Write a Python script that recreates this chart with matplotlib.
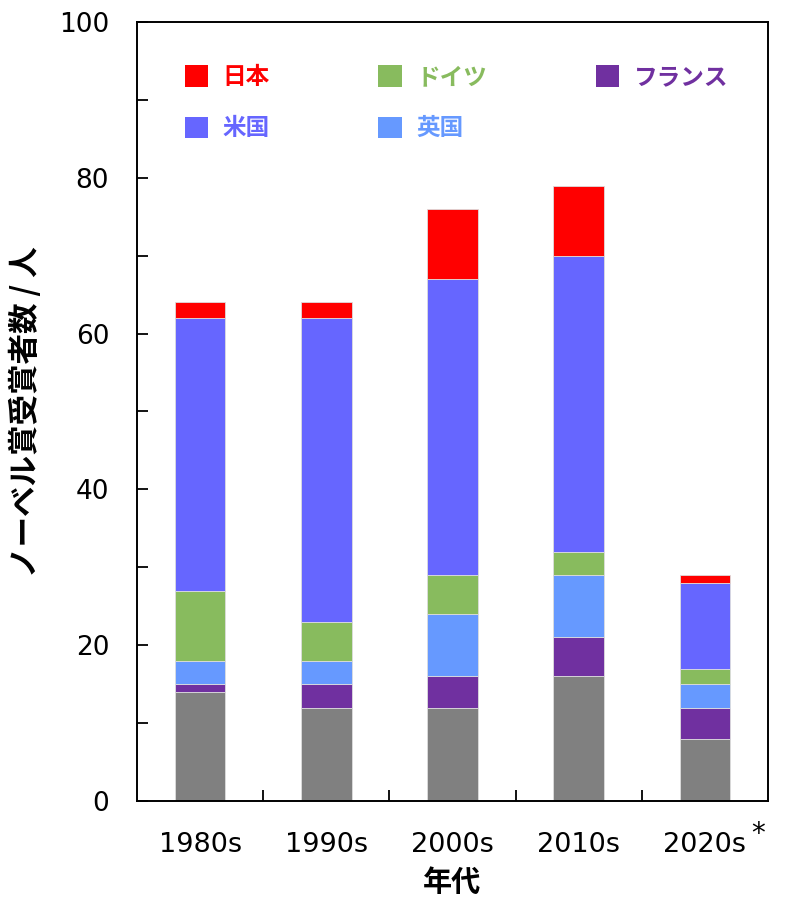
import matplotlib
matplotlib.use("Agg")
import matplotlib.pyplot as plt
import numpy as np

plt.rcParams['font.family'] = ['DejaVu Sans', 'Noto Sans CJK JP']

categories = ['1980s', '1990s', '2000s', '2010s', '2020s']
other   = [14, 12, 12, 16, 8]
france  = [1, 3, 4, 5, 4]
uk      = [3, 3, 8, 8, 3]
germany = [9, 5, 5, 3, 2]
usa     = [35, 39, 38, 38, 11]
japan   = [2, 2, 9, 9, 1]

series = [
    ('その他', other, '#808080'),
    ('フランス', france, '#7030A0'),
    ('英国', uk, '#6699FF'),
    ('ドイツ', germany, '#88BB5E'),
    ('米国', usa, '#6666FF'),
    ('日本', japan, '#FF0000'),
]

fig = plt.figure(figsize=(7.97, 8.97), dpi=100)
ax = fig.add_axes([137/797, 1-801/897, (768-137)/797, (801-22)/897])

x = np.arange(len(categories))
bottom = np.zeros(len(categories))
handles = {}
for name, vals, col in series:
    b = ax.bar(x, vals, width=0.4, bottom=bottom, color=col,
               edgecolor='#dddddd', linewidth=0.6, label=name)
    handles[name] = b
    bottom += np.array(vals)

ax.set_xlim(-0.5, 4.5)
ax.set_ylim(0, 100)
ax.set_yticks(np.arange(0, 101, 20))
ax.set_yticks(np.arange(10, 100, 20), minor=True)
ax.set_xticks(x)
ax.set_xticklabels(categories)
ax.set_xticks(np.arange(0.5, 4.0, 1.0), minor=True)

ax.tick_params(axis='y', which='both', direction='in', length=8, width=1.3,
               labelsize=19, pad=20)
ax.tick_params(axis='x', which='major', length=0, labelsize=19.5, pad=22)
ax.tick_params(axis='x', which='minor', direction='in', length=8, width=1.3)
for s in ax.spines.values():
    s.set_linewidth(1.4)
    s.set_color('black')

cjk = ['Noto Sans CJK JP', 'DejaVu Sans']
ax.set_ylabel('ノーベル賞受賞者数 / 人', family=cjk, fontweight='bold',
              fontsize=22, labelpad=12)
ax.set_xlabel('年代', family=cjk, fontweight='bold', fontsize=21, labelpad=7)

ax.annotate('*', xy=(4, 0), xycoords=('data', 'axes fraction'),
            xytext=(38, -24), textcoords='offset points',
            ha='center', va='center', fontsize=20)

order = ['日本', '米国', 'ドイツ', '英国', 'フランス']
cols = {n: c for n, _, c in series}
leg = ax.legend([handles[n] for n in order], order, ncol=3,
                loc='upper left', bbox_to_anchor=(0.042, 0.972),
                frameon=False, prop={'family': cjk, 'weight': 'bold', 'size': 17},
                handlelength=1.0, handleheight=1.0, handletextpad=0.6,
                columnspacing=4.6, labelspacing=1.15)
for t, n in zip(leg.get_texts(), order):
    t.set_color(cols[n])
for h in leg.legend_handles:
    h.set_edgecolor('none')

fig.savefig('out.png', dpi=100)
